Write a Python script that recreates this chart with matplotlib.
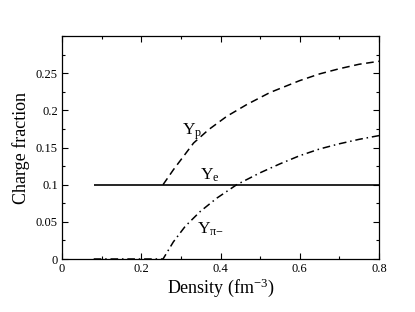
import matplotlib
matplotlib.use('Agg')
import matplotlib.pyplot as plt
from matplotlib.ticker import MultipleLocator

plt.rcParams['font.family'] = ['Liberation Serif', 'DejaVu Serif']
plt.rcParams['mathtext.fontset'] = 'custom'
plt.rcParams['mathtext.rm'] = 'Liberation Serif'
plt.rcParams['mathtext.it'] = 'Liberation Serif'

# values
density_e = [0.08, 0.8]
y_e = [0.1, 0.1]

# below 0.255 Yp sits on Ye and is hidden by it
density_p = [0.255, 0.281, 0.332, 0.370, 0.416, 0.467, 0.525, 0.6, 0.65, 0.7, 0.75, 0.8]
y_p = [0.1, 0.120, 0.156, 0.174, 0.192, 0.208, 0.224, 0.240, 0.249, 0.256, 0.262, 0.266]

density_pi = [0.08, 0.255, 0.281, 0.311, 0.349, 0.391, 0.441, 0.5, 0.55, 0.6, 0.65, 0.7, 0.75, 0.8]
y_pi = [0.0, 0.0, 0.023, 0.044, 0.064, 0.082, 0.100, 0.116, 0.128, 0.139, 0.148, 0.155, 0.161, 0.166]

fig = plt.figure(figsize=(4.15, 3.12), dpi=100)
ax = fig.add_axes([62 / 415, 53 / 312, 317 / 415, 223 / 312])

ax.plot(density_p, y_p, color='black', lw=1.1, dashes=(5, 3), zorder=2)
ax.plot(density_pi, y_pi, color='black', lw=1.1, dashes=(5, 2.5, 1, 2.5), zorder=2)
ax.plot(density_e, y_e, color='black', lw=1.2, solid_capstyle='butt', zorder=3)

ax.text(0.303, 0.1676, r'Y$_\mathregular{p}$', fontsize=12.5, ha='left', va='baseline')
ax.text(0.349, 0.1068, r'Y$_\mathregular{e}$', fontsize=12.5, ha='left', va='baseline')
ax.text(0.340, 0.0347, r'Y$_{\pi\mathregular{-}}$', fontsize=12.5, ha='left', va='baseline')

ax.set_xlim(0, 0.8)
ax.set_ylim(0, 0.3)
ax.set_xticks([0, 0.2, 0.4, 0.6, 0.8])
ax.set_xticklabels(['0', '0.2', '0.4', '0.6', '0.8'])
ax.set_yticks([0, 0.05, 0.1, 0.15, 0.2, 0.25])
ax.set_yticklabels(['0', '0.05', '0.1', '0.15', '0.2', '0.25'])
ax.xaxis.set_minor_locator(MultipleLocator(0.1))
ax.yaxis.set_minor_locator(MultipleLocator(0.025))
ax.tick_params(which='both', direction='in', top=True, right=True, labelsize=9, pad=3)
ax.tick_params(which='major', length=4.5, width=0.8)
ax.tick_params(which='minor', length=2.5, width=0.8)
for s in ax.spines.values():
    s.set_linewidth(0.9)

ax.set_xlabel('Density (fm$^\\mathregular{-3}$)', fontsize=13, labelpad=1)
ax.set_ylabel('Charge fraction', fontsize=13, labelpad=4)

fig.savefig('out.png', dpi=100)
